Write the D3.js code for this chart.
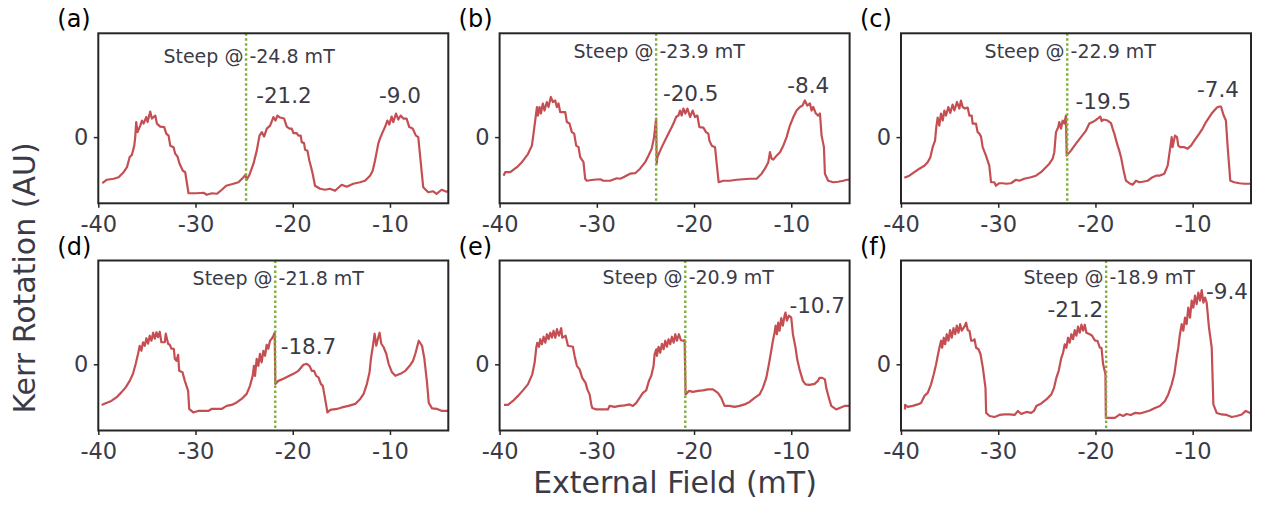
<!DOCTYPE html>
<html><head><meta charset="utf-8">
<script src="https://cdn.jsdelivr.net/npm/d3@7"></script>
<style>body{margin:0;background:#fff;} svg{display:block;font-family:"DejaVu Sans",sans-serif;}</style>
</head><body>
<svg id="chart" width="1262" height="510"></svg>
<script>
// ---------------- data ----------------
const panelLetters = ["(a)","(b)","(c)","(d)","(e)","(f)"];
const steepFields = [-24.8, -23.9, -22.9, -21.8, -20.9, -18.9];
const steepLabelY = [1.47, 1.58, 1.58, 1.59, 1.60, 1.60];
const peakLabels = [
  [{t:"-21.2", x:-20.9, y:0.68}, {t:"-9.0", x:-8.97, y:0.68}],
  [{t:"-20.5", x:-20.34, y:0.72}, {t:"-8.4", x:-8.25, y:0.87}],
  [{t:"-19.5", x:-19.19, y:0.57}, {t:"-7.4", x:-7.40, y:0.80}],
  [{t:"-18.7", x:-18.38, y:0.21}],
  [{t:"-10.7", x:-7.33, y:1.03}],
  [{t:"-21.2", x:-22.06, y:0.95}, {t:"-9.4", x:-6.46, y:1.30}]
];
const xTicks = [-40, -30, -20, -10];
const yTicks = [0];
const xDomain = [-40, -4];
const yDomain = [-1.32, 2.07];
const xLabel = "External Field (mT)";
const yLabel = "Kerr Rotation (AU)";

const seriesA = [[-39.59,-0.92],[-39.11,-0.85],[-38.42,-0.83],[-37.91,-0.80],[-37.40,-0.70],[-37.05,-0.60],[-36.78,-0.40],[-36.54,-0.35],[-36.30,-0.17],[-36.20,0.0],[-36.10,0.30],[-35.96,0.10],[-35.68,0.23],[-35.51,0.33],[-35.34,0.27],[-35.07,0.40],[-34.93,0.30],[-34.66,0.51],[-34.49,0.37],[-34.14,0.43],[-33.97,0.27],[-33.63,0.21],[-33.22,0.20],[-33.01,0.07],[-32.77,0.03],[-32.60,-0.17],[-32.26,-0.20],[-32.09,-0.33],[-31.85,-0.39],[-31.64,-0.53],[-31.30,-0.67],[-31.06,-0.70],[-30.72,-1.12],[-29.86,-1.12],[-29.18,-1.11],[-28.84,-1.15],[-28.32,-1.12],[-27.81,-1.13],[-27.29,-1.05],[-26.85,-0.97],[-26.10,-0.93],[-25.58,-0.90],[-25.07,-0.80],[-24.86,-0.75],[-24.73,-0.85],[-24.45,-0.75],[-24.04,-0.53],[-23.70,-0.27],[-23.42,0.03],[-23.18,0.10],[-22.95,0.01],[-22.67,0.17],[-22.33,0.23],[-21.99,0.40],[-21.78,0.33],[-21.58,0.43],[-21.30,0.39],[-20.89,0.37],[-20.62,0.21],[-20.34,0.17],[-20.10,0.17],[-19.93,0.08],[-19.59,0.08],[-19.42,0.03],[-19.18,0.03],[-19.08,-0.10],[-18.84,-0.12],[-18.73,-0.25],[-18.49,-0.27],[-18.29,-0.47],[-18.15,-0.57],[-17.95,-0.73],[-17.71,-0.97],[-17.19,-1.03],[-16.68,-1.05],[-16.16,-1.03],[-15.65,-1.07],[-14.97,-0.95],[-14.45,-0.99],[-13.77,-0.93],[-13.08,-0.90],[-12.57,-0.87],[-12.05,-0.77],[-11.78,-0.67],[-11.54,-0.47],[-11.20,-0.13],[-11.03,-0.03],[-10.75,0.10],[-10.51,0.20],[-10.27,0.33],[-10.07,0.25],[-9.83,0.41],[-9.66,0.30],[-9.38,0.47],[-9.14,0.35],[-8.90,0.43],[-8.63,0.37],[-8.29,0.37],[-8.01,0.20],[-7.67,0.17],[-7.33,0.03],[-7.09,0.0],[-6.58,-1.00],[-6.06,-1.10],[-5.55,-1.08],[-5.21,-1.13],[-4.69,-1.05],[-4.18,-1.09],[-4.0,-1.08]];

const seriesB = [[-39.59,-0.77],[-39.42,-0.70],[-38.90,-0.70],[-38.22,-0.60],[-37.71,-0.50],[-37.12,-0.35],[-36.68,-0.17],[-36.51,0.07],[-36.34,0.33],[-36.16,0.60],[-36.06,0.43],[-35.89,0.60],[-35.75,0.47],[-35.55,0.67],[-35.38,0.53],[-35.14,0.70],[-34.97,0.60],[-34.73,0.80],[-34.52,0.70],[-34.28,0.73],[-34.11,0.60],[-33.94,0.67],[-33.77,0.50],[-33.25,0.50],[-33.08,0.30],[-32.81,0.27],[-32.57,0.10],[-32.33,0.07],[-32.12,-0.17],[-31.88,-0.20],[-31.71,-0.40],[-31.37,-0.50],[-31.20,-0.83],[-31.03,-0.87],[-30.34,-0.85],[-29.66,-0.84],[-29.32,-0.87],[-28.97,-0.87],[-28.63,-0.87],[-27.95,-0.82],[-27.60,-0.83],[-27.26,-0.80],[-26.58,-0.73],[-26.06,-0.72],[-25.55,-0.63],[-25.03,-0.50],[-24.69,-0.37],[-24.35,-0.23],[-24.11,0.0],[-23.90,0.37],[-23.84,-0.53],[-23.77,-0.40],[-23.32,-0.20],[-22.81,0.0],[-22.29,0.20],[-22.05,0.30],[-21.85,0.40],[-21.61,0.43],[-21.44,0.53],[-21.27,0.43],[-21.10,0.57],[-20.89,0.47],[-20.68,0.57],[-20.41,0.40],[-20.14,0.53],[-19.90,0.40],[-19.66,0.43],[-19.45,0.20],[-19.04,0.19],[-18.77,0.10],[-18.53,0.07],[-18.42,-0.07],[-18.18,-0.17],[-17.84,-0.20],[-17.67,-0.53],[-17.47,-0.90],[-16.99,-0.87],[-16.30,-0.87],[-15.62,-0.85],[-14.93,-0.84],[-14.25,-0.83],[-13.56,-0.83],[-13.05,-0.73],[-12.71,-0.63],[-12.36,-0.50],[-12.19,-0.30],[-12.02,-0.43],[-11.85,-0.45],[-11.51,-0.37],[-11.16,-0.30],[-10.82,-0.17],[-10.48,0.0],[-10.14,0.23],[-9.79,0.40],[-9.45,0.53],[-9.11,0.60],[-8.84,0.63],[-8.60,0.73],[-8.36,0.63],[-8.08,0.67],[-7.91,0.53],[-7.74,0.60],[-7.47,0.47],[-7.23,0.43],[-7.05,0.47],[-6.88,0.03],[-6.64,-0.20],[-6.54,-0.73],[-6.20,-0.87],[-5.68,-0.90],[-5.17,-0.89],[-4.66,-0.87],[-4.25,-0.85],[-4.0,-0.85]];

const seriesC = [[-39.66,-0.81],[-39.14,-0.77],[-38.63,-0.70],[-38.11,-0.63],[-37.60,-0.57],[-37.26,-0.50],[-36.98,-0.40],[-36.74,-0.20],[-36.50,-0.07],[-36.37,0.20],[-36.23,0.39],[-36.06,0.23],[-35.89,0.47],[-35.71,0.33],[-35.54,0.53],[-35.37,0.43],[-35.13,0.60],[-34.93,0.48],[-34.69,0.65],[-34.51,0.53],[-34.24,0.70],[-34.00,0.57],[-33.83,0.73],[-33.66,0.60],[-33.42,0.57],[-33.14,0.59],[-32.97,0.43],[-32.73,0.43],[-32.63,0.27],[-32.29,0.27],[-32.12,0.10],[-31.94,0.07],[-31.77,0.01],[-31.60,-0.20],[-31.26,-0.37],[-30.92,-0.57],[-30.74,-0.90],[-30.40,-0.90],[-30.23,-0.97],[-29.89,-0.92],[-29.54,-0.92],[-29.20,-0.93],[-28.69,-0.92],[-28.17,-0.85],[-27.83,-0.87],[-27.32,-0.83],[-26.63,-0.80],[-26.12,-0.77],[-25.60,-0.70],[-25.09,-0.60],[-24.74,-0.53],[-24.40,-0.43],[-24.23,-0.30],[-24.06,0.10],[-23.82,0.20],[-23.72,0.30],[-23.54,0.17],[-23.37,0.33],[-23.20,0.27],[-23.03,0.43],[-22.96,-0.37],[-22.52,-0.27],[-22.00,-0.13],[-21.49,0.0],[-20.97,0.13],[-20.63,0.27],[-20.29,0.30],[-20.05,0.33],[-19.77,0.37],[-19.50,0.41],[-19.36,0.32],[-19.16,0.35],[-18.75,0.33],[-18.40,0.28],[-18.23,0.17],[-18.06,0.07],[-17.72,-0.17],[-17.55,-0.27],[-17.37,-0.40],[-17.10,-0.67],[-16.86,-0.87],[-16.52,-0.92],[-16.17,-0.95],[-15.83,-0.87],[-15.49,-0.90],[-15.15,-0.89],[-14.63,-0.87],[-14.12,-0.80],[-13.77,-0.77],[-13.43,-0.77],[-12.92,-0.73],[-12.57,-0.57],[-12.30,-0.20],[-12.16,0.0],[-12.06,-0.20],[-11.82,0.03],[-11.61,0.0],[-11.48,-0.17],[-11.27,-0.20],[-10.86,-0.20],[-10.52,-0.23],[-10.17,-0.17],[-9.83,-0.07],[-9.32,0.07],[-8.98,0.17],[-8.63,0.30],[-8.29,0.40],[-8.05,0.47],[-7.78,0.53],[-7.50,0.59],[-7.26,0.61],[-7.09,0.61],[-6.81,0.43],[-6.58,0.33],[-6.40,-0.20],[-6.13,-0.87],[-5.72,-0.90],[-5.20,-0.92],[-4.69,-0.93],[-4.18,-0.93],[-4.0,-0.93]];

const seriesD = [[-39.66,-0.81],[-39.18,-0.77],[-38.66,-0.73],[-38.14,-0.66],[-37.63,-0.56],[-37.18,-0.46],[-36.77,-0.33],[-36.43,-0.19],[-36.15,0.01],[-35.91,0.21],[-35.74,0.37],[-35.57,0.27],[-35.40,0.44],[-35.22,0.37],[-35.05,0.52],[-34.88,0.41],[-34.71,0.57],[-34.54,0.47],[-34.36,0.63],[-34.19,0.51],[-34.02,0.64],[-33.85,0.54],[-33.68,0.65],[-33.51,0.44],[-33.16,0.44],[-33.06,0.61],[-32.82,0.41],[-32.65,0.39],[-32.47,0.31],[-32.23,0.31],[-32.13,0.11],[-31.96,0.07],[-31.79,0.19],[-31.68,-0.13],[-31.34,-0.16],[-31.10,-0.33],[-30.76,-0.53],[-30.65,-0.89],[-30.24,-0.96],[-29.73,-0.93],[-29.21,-0.93],[-28.69,-0.93],[-28.35,-0.89],[-27.84,-0.89],[-27.32,-0.89],[-26.80,-0.83],[-26.29,-0.81],[-25.77,-0.76],[-25.26,-0.69],[-24.74,-0.59],[-24.40,-0.43],[-24.12,-0.23],[-23.99,-0.03],[-23.88,-0.23],[-23.71,0.11],[-23.54,-0.03],[-23.37,0.21],[-23.20,0.04],[-23.02,0.27],[-22.85,0.17],[-22.68,0.39],[-22.51,0.31],[-22.34,0.47],[-22.16,0.51],[-21.99,0.57],[-21.86,0.63],[-21.79,-0.39],[-21.48,-0.33],[-20.96,-0.29],[-20.45,-0.24],[-19.93,-0.19],[-19.42,-0.13],[-18.90,-0.01],[-18.56,0.01],[-18.28,-0.03],[-18.04,-0.13],[-17.80,-0.13],[-17.59,-0.23],[-17.35,-0.26],[-17.11,-0.39],[-16.91,-0.43],[-16.67,-0.69],[-16.43,-0.96],[-16.15,-0.91],[-15.46,-0.89],[-14.95,-0.86],[-14.26,-0.83],[-13.57,-0.79],[-13.06,-0.69],[-12.71,-0.59],[-12.37,-0.39],[-12.10,-0.16],[-11.96,0.11],[-11.75,0.37],[-11.58,0.61],[-11.41,0.37],[-11.24,0.51],[-11.07,0.63],[-10.89,0.41],[-10.65,0.34],[-10.38,0.21],[-10.14,0.01],[-9.79,-0.16],[-9.45,-0.23],[-8.93,-0.19],[-8.42,-0.13],[-7.97,-0.03],[-7.63,0.07],[-7.39,0.21],[-7.04,0.47],[-6.70,0.37],[-6.46,0.11],[-6.19,-0.36],[-6.01,-0.77],[-5.67,-0.88],[-5.15,-0.89],[-4.64,-0.93],[-4.12,-0.93],[-4.0,-0.92]];

const seriesE = [[-39.55,-0.81],[-39.14,-0.81],[-38.63,-0.73],[-38.11,-0.63],[-37.60,-0.52],[-37.09,-0.40],[-36.64,-0.20],[-36.40,0.03],[-36.23,0.33],[-36.13,0.43],[-35.95,0.35],[-35.82,0.50],[-35.65,0.40],[-35.47,0.55],[-35.30,0.43],[-35.13,0.60],[-34.96,0.50],[-34.79,0.63],[-34.62,0.53],[-34.45,0.67],[-34.27,0.53],[-34.10,0.70],[-33.90,0.57],[-33.66,0.72],[-33.56,0.53],[-33.21,0.57],[-32.97,0.37],[-32.46,0.35],[-32.29,0.17],[-32.05,-0.03],[-31.77,-0.10],[-31.50,-0.27],[-31.16,-0.37],[-30.98,-0.50],[-30.74,-0.60],[-30.57,-0.80],[-30.47,-0.87],[-30.06,-0.90],[-29.37,-0.90],[-28.86,-0.90],[-28.69,-0.83],[-28.17,-0.85],[-27.66,-0.83],[-27.14,-0.82],[-26.63,-0.80],[-26.29,-0.83],[-25.94,-0.77],[-25.60,-0.67],[-25.26,-0.57],[-24.92,-0.52],[-24.64,-0.33],[-24.40,-0.23],[-24.16,-0.03],[-24.06,0.20],[-23.89,0.30],[-23.82,0.17],[-23.65,0.35],[-23.48,0.23],[-23.30,0.41],[-23.13,0.30],[-22.96,0.47],[-22.79,0.35],[-22.62,0.50],[-22.45,0.40],[-22.28,0.55],[-22.10,0.43],[-21.93,0.60],[-21.76,0.47],[-21.56,0.60],[-21.35,0.48],[-21.15,0.47],[-20.97,0.48],[-20.87,-0.60],[-20.53,-0.53],[-20.12,-0.55],[-19.60,-0.53],[-19.09,-0.52],[-18.57,-0.50],[-18.06,-0.50],[-17.55,-0.57],[-17.20,-0.67],[-16.86,-0.83],[-16.35,-0.83],[-15.83,-0.85],[-15.32,-0.83],[-14.80,-0.80],[-14.29,-0.75],[-13.77,-0.67],[-13.26,-0.60],[-12.92,-0.47],[-12.57,-0.27],[-12.30,0.0],[-12.06,0.27],[-11.89,0.47],[-11.72,0.63],[-11.61,0.77],[-11.48,0.60],[-11.34,0.83],[-11.20,0.67],[-11.03,0.92],[-10.86,0.77],[-10.69,0.97],[-10.59,1.03],[-10.45,0.87],[-10.24,0.97],[-10.00,0.93],[-9.83,0.60],[-9.56,0.33],[-9.39,0.10],[-9.15,-0.10],[-8.80,-0.33],[-8.53,-0.40],[-8.12,-0.41],[-7.60,-0.39],[-7.26,-0.33],[-7.09,-0.27],[-6.82,-0.27],[-6.54,-0.30],[-6.40,-0.47],[-6.13,-0.67],[-5.89,-0.83],[-5.38,-0.90],[-5.03,-0.87],[-4.52,-0.83],[-4.18,-0.83],[-4.0,-0.83]];

const seriesF = [[-39.59,-0.90],[-39.58,-0.81],[-39.31,-0.85],[-38.80,-0.83],[-38.28,-0.80],[-37.94,-0.77],[-37.59,-0.63],[-37.25,-0.57],[-36.91,-0.40],[-36.63,-0.20],[-36.39,0.0],[-36.22,0.17],[-36.05,0.33],[-35.88,0.47],[-35.77,0.33],[-35.60,0.53],[-35.46,0.40],[-35.29,0.60],[-35.12,0.47],[-34.95,0.68],[-34.78,0.53],[-34.60,0.72],[-34.43,0.60],[-34.26,0.77],[-34.09,0.63],[-33.92,0.80],[-33.75,0.67],[-33.54,0.73],[-33.30,0.83],[-33.13,0.68],[-32.96,0.67],[-32.78,0.47],[-32.61,0.47],[-32.44,0.50],[-32.27,0.33],[-32.03,0.30],[-31.82,0.20],[-31.58,-0.07],[-31.31,-0.47],[-31.24,-0.97],[-30.89,-1.03],[-30.38,-1.05],[-29.86,-1.01],[-29.35,-1.00],[-28.83,-1.00],[-28.32,-1.01],[-27.97,-0.93],[-27.63,-0.99],[-27.11,-0.95],[-26.60,-0.97],[-26.32,-0.93],[-26.08,-0.83],[-25.57,-0.78],[-25.05,-0.70],[-24.54,-0.60],[-24.26,-0.47],[-24.02,-0.27],[-23.78,-0.13],[-23.51,0.13],[-23.33,0.23],[-23.16,0.40],[-22.99,0.33],[-22.82,0.53],[-22.65,0.43],[-22.47,0.60],[-22.30,0.50],[-22.13,0.68],[-21.96,0.57],[-21.79,0.75],[-21.62,0.63],[-21.44,0.79],[-21.27,0.67],[-21.10,0.79],[-20.93,0.63],[-20.58,0.60],[-20.34,0.57],[-20.14,0.50],[-20.00,0.47],[-19.79,0.47],[-19.55,0.33],[-19.38,0.33],[-19.21,0.0],[-18.97,-0.20],[-18.93,-1.07],[-18.52,-1.07],[-18.01,-1.07],[-17.49,-1.00],[-17.15,-1.03],[-16.80,-0.99],[-16.36,-1.01],[-15.95,-0.97],[-15.43,-0.98],[-14.91,-0.95],[-14.40,-0.92],[-13.88,-0.87],[-13.37,-0.83],[-12.85,-0.73],[-12.51,-0.60],[-12.16,-0.40],[-11.89,-0.20],[-11.65,0.13],[-11.48,0.33],[-11.31,0.60],[-11.13,0.80],[-10.96,0.67],[-10.79,0.93],[-10.62,0.80],[-10.45,1.13],[-10.27,0.93],[-10.10,1.27],[-9.93,1.13],[-9.76,1.37],[-9.59,1.20],[-9.42,1.43],[-9.24,1.27],[-9.07,1.48],[-8.90,1.23],[-8.73,1.33],[-8.56,1.23],[-8.32,0.73],[-8.04,0.33],[-7.87,-0.80],[-7.53,-0.97],[-7.01,-1.00],[-6.49,-1.01],[-5.98,-1.05],[-5.46,-1.03],[-4.95,-1.00],[-4.54,-0.93],[-4.09,-0.97],[-4.0,-0.96]];

const allSeries = [seriesA, seriesB, seriesC, seriesD, seriesE, seriesF];

// ---------------- layout / style ----------------
const colLeft = [98.3, 499.6, 901];
const rowTop = [33.3, 260.5];
const W = 350, H = 170;
const textColor = "#3b3b47";
const frameColor = "#262626";
const lineColor = "#c44e52";
const steepColor = "#7fb03a";

const svg = d3.select("#chart");

allSeries.forEach((series, i) => {
  const col = i % 3, row = Math.floor(i / 3);
  const g = svg.append("g").attr("transform", `translate(${colLeft[col]},${rowTop[row]})`);
  const x = d3.scaleLinear().domain(xDomain).range([0, W]);
  const y = d3.scaleLinear().domain(yDomain).range([H, 0]);

  const clipId = "clip" + i;
  g.append("clipPath").attr("id", clipId).append("rect").attr("width", W).attr("height", H);

  // x axis
  const xa = g.append("g").attr("transform", `translate(0,${H})`)
    .call(d3.axisBottom(x).tickValues(xTicks).tickSize(4.5).tickPadding(8).tickFormat(d => String(d)));
  xa.select(".domain").remove();
  xa.selectAll(".tick line").attr("stroke", frameColor).attr("stroke-width", 1.5);
  xa.selectAll(".tick text").attr("fill", textColor).style("font-size", "22.5px").style("font-family", "DejaVu Sans");

  // y axis
  const ya = g.append("g")
    .call(d3.axisLeft(y).tickValues(yTicks).tickSize(4.5).tickPadding(5.5).tickFormat(d => String(d)));
  ya.select(".domain").remove();
  ya.selectAll(".tick line").attr("stroke", frameColor).attr("stroke-width", 1.5);
  ya.selectAll(".tick text").attr("fill", textColor).style("font-size", "22.5px").style("font-family", "DejaVu Sans");

  // data line
  const line = d3.line().x(d => x(d[0])).y(d => y(d[1]));
  g.append("path").datum(series)
    .attr("clip-path", `url(#${clipId})`)
    .attr("fill", "none").attr("stroke", lineColor).attr("stroke-width", 2.2)
    .attr("stroke-linejoin", "round").attr("d", line);

  // steep marker
  const sx = x(steepFields[i]);
  g.append("line").attr("x1", sx).attr("x2", sx).attr("y1", 0).attr("y2", H)
    .attr("stroke", steepColor).attr("stroke-width", 2.4).attr("stroke-dasharray", "2.4,2.6");

  g.append("text").attr("x", sx + 3).attr("y", y(steepLabelY[i]))
    .attr("text-anchor", "middle").attr("fill", textColor).style("font-size", "19px")
    .text(`Steep @ ${steepFields[i]} mT`);

  // peak labels
  g.selectAll("text.peak").data(peakLabels[i]).enter().append("text")
    .attr("class", "peak")
    .attr("x", d => x(d.x)).attr("y", d => y(d.y))
    .attr("text-anchor", "middle").attr("fill", textColor).style("font-size", "21.5px")
    .text(d => d.t);

  // frame
  g.append("rect").attr("width", W).attr("height", H)
    .attr("fill", "none").attr("stroke", frameColor).attr("stroke-width", 2);

  // panel letter
  svg.append("text").attr("x", colLeft[col] - 41).attr("y", rowTop[row] - 6)
    .attr("fill", "#000").style("font-size", "24px").text(panelLetters[i]);
});

// axis titles
svg.append("text").attr("x", 675).attr("y", 493).attr("text-anchor", "middle")
  .attr("fill", textColor).style("font-size", "30px").text(xLabel);
svg.append("text").attr("transform", "translate(35,278) rotate(-90)").attr("text-anchor", "middle")
  .attr("fill", textColor).style("font-size", "30px").text(yLabel);
</script>
</body></html>
